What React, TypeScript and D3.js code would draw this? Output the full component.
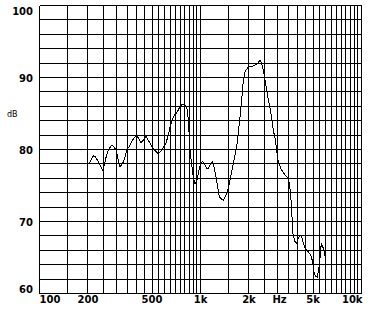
import React from "react";
import * as d3 from "d3";

const W = 373;
const H = 310;

// Grid frequencies (Hz)
const freqGridLow = [100, 150, 200, 250, 300, 350, 400, 450, 500, 550, 600, 650, 700, 750, 800, 850, 900, 950, 1000];
const freqGridHigh = [1500, 2000, 2500, 3000, 3500, 4000, 4500, 5000, 5500, 6000, 6500, 7000, 7500, 8000, 8500, 9000, 9500, 10000];
const dbGrid = [60, 62, 64, 66, 68, 70, 72, 74, 76, 78, 80, 82, 84, 86, 88, 90, 92, 94, 96, 98, 100];

const xTickLabels = [
  { f: 100, label: "100", anchor: "start" },
  { f: 200, label: "200", anchor: "middle" },
  { f: 500, label: "500", anchor: "middle" },
  { f: 1000, label: "1k", anchor: "middle" },
  { f: 2000, label: "2k", anchor: "middle" },
  { f: 3100, label: "Hz", anchor: "middle" },
  { f: 5000, label: "5k", anchor: "middle" },
  { f: 10000, label: "10k", anchor: "end" },
];
const yTickLabels = [100, 90, 80, 70, 60];

// Response curve
const freqs = [
  198, 206, 216, 222, 232, 240, 247, 253, 261, 271, 281, 290, 299, 309, 316, 329, 340, 348, 365, 379,
  398, 413, 425, 441, 459, 474, 498, 529, 547, 574, 611, 635, 647, 678, 718, 746, 764, 801, 828, 840,
  861, 882, 902, 924, 947, 969, 1003, 1032, 1067, 1093, 1124, 1157, 1184, 1213, 1248, 1279, 1309, 1354, 1386, 1426,
  1467, 1510, 1563, 1615, 1678, 1717, 1759, 1803, 1845, 1890, 1982, 2128, 2253, 2342, 2399, 2455, 2515, 2577, 2637, 2702,
  2768, 2832, 2902, 2974, 3043, 3149, 3268, 3397, 3460, 3530, 3597, 3648, 3685, 3738, 3864, 3958, 4050, 4150, 4252, 4351,
  4457, 4673, 4836, 4977, 5070, 5164, 5315, 5423, 5524, 5628, 5741, 5850, 5960, 6019,
];
const levels = [
  77.85, 78.3, 79.1, 79.0, 78.3, 77.6, 77.15, 77.85, 79.25, 80.15, 80.6, 80.4, 79.9, 78.5, 77.6, 78.1, 79.0, 79.9, 80.6, 81.3,
  82.0, 81.55, 80.95, 81.3, 81.8, 81.3, 80.4, 79.7, 79.4, 79.9, 80.9, 82.25, 83.2, 84.55, 85.25, 85.95, 86.2, 86.2, 85.6, 84.1,
  79.9, 77.85, 76.2, 75.3, 75.5, 76.7, 78.1, 78.3, 77.85, 77.4, 77.4, 78.1, 78.3, 77.6, 76.2, 74.8, 73.45, 73.1, 73.0, 73.45,
  74.1, 75.3, 76.9, 78.5, 80.4, 82.25, 84.55, 86.9, 89.65, 90.8, 91.45, 91.6, 91.9, 92.4, 92.0, 91.0, 89.65, 88.3, 86.9, 85.75,
  84.3, 82.7, 81.6, 79.9, 78.3, 77.4, 76.8, 76.3, 76.1, 75.8, 74.5, 73.0, 71.6, 68.4, 67.2, 67.0, 67.7, 68.1, 67.9, 67.0,
  66.3, 65.8, 65.35, 64.4, 63.0, 62.4, 62.3, 63.3, 64.9, 67.0, 66.5, 66.0, 64.9, 63.3,
];

const X0 = 39.5;
const X1 = 361.5;
const Y0 = 5.5;
const Y1 = 293.5;

export default function App() {
  const x = d3.scaleLog().domain([100, 10000]).range([X0, X1]);
  const y = d3.scaleLinear().domain([60, 100]).range([Y1, Y0]);
  const data = freqs.map((f, i) => [f, levels[i]] as [number, number]);
  const line = d3
    .line<[number, number]>()
    .x((d) => x(d[0]))
    .y((d) => y(d[1]));
  const allF = [...freqGridLow, ...freqGridHigh];
  const font = "'DejaVu Sans', sans-serif";

  return (
    <svg
      width={W}
      height={H}
      style={{ position: "absolute", left: 0, top: 0, background: "#fff" }}
    >
      <rect x={0} y={0} width={W} height={H} fill="#fff" />
      <g stroke="#000" strokeWidth={1} shapeRendering="crispEdges">
        {allF.map((f) => (
          <line key={"v" + f} x1={x(f)} x2={x(f)} y1={Y0} y2={Y1} />
        ))}
        {dbGrid.map((v) => (
          <line key={"h" + v} x1={X0} x2={X1} y1={y(v)} y2={y(v)} />
        ))}
      </g>
      <path
        d={line(data) || ""}
        fill="none"
        stroke="#000"
        strokeWidth={1}
        shapeRendering="crispEdges"
      />
      <g fontFamily={font} fontWeight="bold" fontSize={10} fill="#000">
        {yTickLabels.map((v) => {
          let b = y(v) + 4;
          if (b < 15) b = 15;
          if (b > 293) b = 293;
          return (
            <text key={"yl" + v} x={33} y={b} textAnchor="end">
              {v}
            </text>
          );
        })}
        {xTickLabels.map((t) => (
          <text
            key={"xl" + t.label}
            x={t.anchor === "start" ? X0 : t.anchor === "end" ? X1 + 1 : x(t.f)}
            y={303}
            textAnchor={t.anchor}
          >
            {t.label}
          </text>
        ))}
      </g>
      <text x={7} y={117} fontFamily={font} fontSize={8} fill="#000">
        dB
      </text>
    </svg>
  );
}
